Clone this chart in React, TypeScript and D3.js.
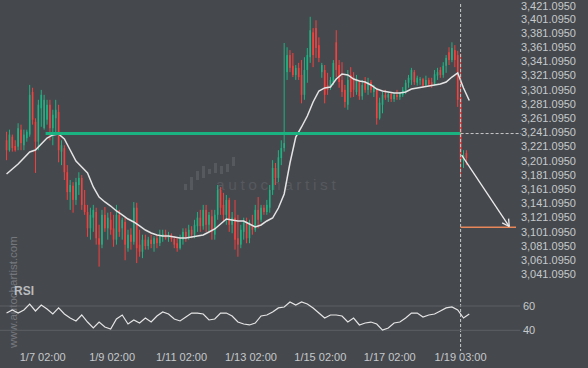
import React from "react";
import * as d3 from "d3";

const W = 588;
const H = 368;

const bg = "#45484d";
const up = "#1fb383";
const down = "#f2413f";
const axisText = "#c6c8cb";
const font = "Liberation Sans, Arial, sans-serif";

// 2-hour candles starting 1/6 01:00
const start = new Date(2025, 0, 6, 1);
const stepHours = 2;

// [open, high, low, close]
const ohlc: [number, number, number, number][] = [
  [3230, 3242, 3202, 3216], [3216, 3245, 3214, 3238], [3235, 3238, 3214, 3219], [3222, 3230, 3214, 3216],
  [3221, 3254, 3216, 3247], [3245, 3252, 3216, 3226], [3223, 3245, 3216, 3238], [3233, 3245, 3228, 3242],
  [3238, 3308, 3235, 3294], [3298, 3304, 3252, 3259], [3256, 3261, 3184, 3228], [3228, 3287, 3216, 3280],
  [3275, 3301, 3249, 3294], [3247, 3294, 3245, 3287], [3259, 3287, 3252, 3280], [3280, 3287, 3230, 3247],
  [3247, 3273, 3223, 3266], [3261, 3287, 3238, 3273], [3270, 3280, 3199, 3216], [3214, 3230, 3195, 3223],
  [3219, 3223, 3174, 3185], [3185, 3195, 3146, 3157], [3157, 3174, 3132, 3167], [3166, 3171, 3128, 3146],
  [3146, 3177, 3139, 3171], [3167, 3185, 3153, 3177], [3177, 3181, 3132, 3139], [3139, 3160, 3125, 3129],
  [3129, 3139, 3094, 3106], [3106, 3135, 3090, 3125], [3121, 3139, 3101, 3132], [3129, 3135, 3083, 3092],
  [3092, 3111, 3052, 3083], [3083, 3132, 3078, 3125], [3125, 3136, 3101, 3106], [3106, 3128, 3090, 3121],
  [3118, 3129, 3097, 3104], [3106, 3125, 3080, 3090], [3090, 3139, 3083, 3125], [3125, 3132, 3094, 3101],
  [3106, 3121, 3090, 3118], [3115, 3121, 3061, 3083], [3078, 3104, 3073, 3097], [3097, 3106, 3076, 3087],
  [3087, 3143, 3083, 3135], [3135, 3142, 3057, 3078], [3083, 3104, 3066, 3073], [3073, 3097, 3064, 3090],
  [3090, 3097, 3076, 3081], [3081, 3094, 3076, 3090], [3090, 3097, 3078, 3084], [3084, 3095, 3073, 3092],
  [3092, 3097, 3078, 3085], [3085, 3104, 3081, 3095], [3094, 3104, 3087, 3098], [3098, 3104, 3090, 3092],
  [3092, 3101, 3087, 3097], [3097, 3099, 3087, 3091], [3091, 3095, 3078, 3083], [3085, 3092, 3073, 3078],
  [3078, 3097, 3076, 3092], [3090, 3106, 3083, 3101], [3101, 3106, 3087, 3094], [3094, 3111, 3090, 3104],
  [3104, 3109, 3092, 3097], [3097, 3118, 3092, 3111], [3109, 3129, 3101, 3121], [3121, 3132, 3101, 3109],
  [3109, 3139, 3104, 3132], [3132, 3139, 3101, 3111], [3111, 3129, 3101, 3125], [3123, 3132, 3090, 3101],
  [3097, 3132, 3090, 3125], [3125, 3167, 3118, 3160], [3160, 3164, 3125, 3135], [3139, 3156, 3115, 3125],
  [3125, 3153, 3111, 3146], [3146, 3149, 3101, 3111], [3111, 3129, 3099, 3121], [3121, 3146, 3076, 3090],
  [3092, 3125, 3066, 3083], [3083, 3111, 3078, 3104], [3101, 3121, 3090, 3115], [3115, 3121, 3085, 3092],
  [3092, 3118, 3085, 3111], [3111, 3125, 3097, 3104], [3104, 3139, 3101, 3132], [3132, 3150, 3106, 3118],
  [3118, 3139, 3115, 3135], [3135, 3139, 3125, 3129], [3129, 3146, 3125, 3139], [3135, 3167, 3128, 3160],
  [3160, 3202, 3153, 3191], [3191, 3198, 3167, 3177], [3177, 3216, 3171, 3206], [3205, 3230, 3195, 3219],
  [3219, 3367, 3214, 3226], [3326, 3361, 3315, 3350], [3350, 3357, 3326, 3332], [3335, 3353, 3319, 3322],
  [3322, 3336, 3315, 3332], [3332, 3339, 3315, 3319], [3322, 3343, 3282, 3294], [3294, 3347, 3287, 3329],
  [3329, 3360, 3311, 3350], [3347, 3404, 3339, 3385], [3382, 3388, 3333, 3350], [3388, 3399, 3346, 3360],
  [3364, 3375, 3340, 3346], [3326, 3339, 3318, 3336], [3329, 3336, 3282, 3294], [3308, 3325, 3294, 3301],
  [3304, 3319, 3301, 3315], [3312, 3343, 3308, 3339], [3368, 3385, 3319, 3329], [3336, 3343, 3304, 3312],
  [3315, 3340, 3291, 3298], [3301, 3308, 3276, 3284], [3280, 3329, 3273, 3315], [3322, 3333, 3290, 3298],
  [3318, 3326, 3291, 3301], [3298, 3322, 3294, 3315], [3312, 3315, 3287, 3292], [3292, 3315, 3287, 3308],
  [3312, 3319, 3297, 3301], [3301, 3318, 3294, 3312], [3312, 3315, 3297, 3301], [3298, 3308, 3291, 3304],
  [3301, 3304, 3252, 3261], [3261, 3290, 3259, 3283], [3280, 3298, 3268, 3294], [3294, 3301, 3287, 3290],
  [3290, 3298, 3284, 3295], [3295, 3298, 3284, 3288], [3288, 3297, 3284, 3294], [3294, 3301, 3287, 3291],
  [3291, 3298, 3287, 3297], [3294, 3305, 3291, 3301], [3298, 3315, 3295, 3311], [3311, 3322, 3304, 3318],
  [3315, 3332, 3308, 3329], [3326, 3329, 3308, 3312], [3311, 3321, 3307, 3318], [3315, 3319, 3308, 3316],
  [3316, 3318, 3304, 3307], [3308, 3321, 3305, 3315], [3315, 3318, 3305, 3309], [3312, 3318, 3304, 3307],
  [3309, 3329, 3307, 3323], [3321, 3332, 3315, 3326], [3329, 3333, 3318, 3322], [3322, 3340, 3318, 3335],
  [3335, 3350, 3325, 3346], [3354, 3361, 3336, 3343], [3343, 3368, 3340, 3360], [3357, 3364, 3333, 3343],
  [3350, 3356, 3277, 3287], [3290, 3352, 3178, 3202], [3202, 3216, 3191, 3209], [3212, 3216, 3195, 3205],
];

// moving average and RSI, one value every 4 hours from 1/6 01:00
const maStepHours = 4;
const maValues = [
  3182.5, 3189.6, 3196.6, 3205.1, 3213.5, 3216.3, 3224.8, 3233.2, 3237.5, 3238.9,
  3231.8, 3216.3, 3200.8, 3192.4, 3183.9, 3164.2, 3150.1, 3143.1, 3137.4, 3130.4,
  3124.8, 3119.1, 3114.9, 3109.3, 3103.6, 3099.4, 3096.6, 3095.2, 3095.2, 3093.8,
  3092.4, 3092.4, 3093.8, 3095.2, 3096.6, 3100.8, 3105.1, 3112.1, 3119.1, 3117.7,
  3116.3, 3116.3, 3112.1, 3107.9, 3110.7, 3116.3, 3120.5, 3134.6, 3154.4, 3198.0,
  3234.6, 3248.7, 3264.2, 3283.9, 3299.4, 3303.7, 3305.1, 3316.3, 3323.4, 3322.0,
  3316.3, 3313.5, 3312.1, 3307.9, 3302.2, 3299.4, 3298.0, 3296.6, 3296.6, 3298.0,
  3302.2, 3303.7, 3305.1, 3306.5, 3307.9, 3309.3, 3312.1, 3319.1, 3324.8, 3303.7, 3286.0,
];
const rsiValues = [
  54.2, 56.7, 54.2, 56.7, 61.6, 55.9, 60.8, 57.5, 53.4, 58.4,
  53.4, 50.1, 47.7, 52.6, 46.8, 41.9, 46.8, 42.7, 41.1, 49.3,
  52.6, 45.2, 48.5, 46.0, 50.1, 46.8, 51.8, 55.1, 53.4, 49.3,
  47.7, 50.9, 54.2, 54.2, 53.4, 48.5, 49.3, 54.2, 54.2, 51.8,
  46.8, 45.2, 44.4, 46.0, 51.8, 52.6, 55.1, 58.4, 59.2, 63.3,
  60.8, 63.3, 61.6, 58.4, 54.2, 50.1, 52.6, 52.6, 51.8, 46.8,
  50.1, 44.4, 46.0, 46.8, 45.2, 40.2, 41.9, 46.0, 46.8, 50.1,
  54.2, 54.2, 50.9, 52.6, 53.4, 55.9, 58.4, 59.2, 56.7, 50.1, 53.4,
];

const priceTicks = d3.range(20).map((i) => 3041.095 + 20 * i);
const rsiTicks = [40, 60];
const timeTicks = [
  new Date(2025, 0, 7, 2), new Date(2025, 0, 9, 2), new Date(2025, 0, 11, 2),
  new Date(2025, 0, 13, 2), new Date(2025, 0, 15, 2), new Date(2025, 0, 17, 2),
  new Date(2025, 0, 19, 3),
];

const level = 3239.5;
const levelStart = new Date(2025, 0, 7, 4);
const now = new Date(2025, 0, 19, 3);
const target = 3107.5;
const targetEnd = new Date(2025, 0, 20, 17, 20);
const arrowFrom: [Date, number] = [new Date(2025, 0, 19, 3, 45), 3209];
const arrowTo: [Date, number] = [new Date(2025, 0, 20, 12, 40), 3108.5];

const fmtPrice = d3.format(",.4f");
const fmtTime = d3.timeFormat("%-m/%-d %H:%M");

export default function App() {
  const x = d3.scaleTime()
    .domain([new Date(2025, 0, 7, 2), now])
    .range([42.7, 460.6]);
  const y = d3.scaleLinear().domain([3041.095, 3421.095]).range([274.4, 4.6]);
  const yr = d3.scaleLinear().domain([40, 60]).range([330.3, 306]);

  const tAt = (i: number, step: number) => d3.timeHour.offset(start, i * step);

  const maLine = d3.line<number>()
    .x((_, i) => x(tAt(i, maStepHours)))
    .y((d) => y(d));
  const rsiLine = d3.line<number>()
    .x((_, i) => x(tAt(i, maStepHours)))
    .y((d) => yr(d));

  const ax0 = x(arrowFrom[0]), ay0 = y(arrowFrom[1]);
  const ax1 = x(arrowTo[0]), ay1 = y(arrowTo[1]);
  const ang = Math.atan2(ay1 - ay0, ax1 - ax0) + Math.PI;
  const barb = (a: number) => `M${ax1},${ay1}L${ax1 + 8 * Math.cos(a)},${ay1 + 8 * Math.sin(a)}`;

  const nowX = x(now);

  return (
    <svg width={W} height={H} style={{ position: "absolute", left: 0, top: 0 }} fontFamily={font}>
      <rect width={W} height={H} fill={bg} />

      {/* watermark */}
      <g fill="#56595e">
        <rect x={184} y={184} width={3} height={6} />
        <rect x={190} y={177} width={3} height={13} />
        <rect x={196} y={171} width={3} height={9} />
        <rect x={202} y={166} width={3} height={12} />
        <rect x={208} y={169} width={3} height={5} />
        <rect x={214} y={163} width={3} height={10} />
        <rect x={220} y={166} width={3} height={8} />
        <rect x={226} y={164} width={3} height={8} />
        <rect x={232} y={157} width={3} height={9} />
        <text x={216} y={190} fontSize={15.5} letterSpacing={3.6}>autochartist</text>
      </g>
      <text transform="translate(17,348) rotate(-90)" fontSize={11.5} fill="#75787d">www.autochartist.com</text>

      {/* candles */}
      {ohlc.map(([o, h, l, c], i) => {
        const cx = x(tAt(i, stepHours));
        const col = c >= o ? up : down;
        const top = y(Math.max(o, c));
        const bot = y(Math.min(o, c));
        return (
          <g key={i}>
            <line x1={cx} x2={cx} y1={y(h)} y2={y(l)} stroke={col} strokeWidth={1} />
            <rect x={cx - 0.8} y={top} width={1.6} height={Math.max(1, bot - top)} fill={col} />
          </g>
        );
      })}

      <path d={maLine(maValues) ?? ""} fill="none" stroke="#e4e4e4" strokeWidth={1.5} />

      {/* key level */}
      <line x1={x(levelStart)} x2={nowX} y1={y(level)} y2={y(level)} stroke="#19b280" strokeWidth={3} />
      <line x1={nowX} x2={521} y1={y(level)} y2={y(level)} stroke="#c8c8c8" strokeWidth={1} strokeDasharray="3,2" />
      <line x1={nowX} x2={nowX} y1={4} y2={351} stroke="#c8c8c8" strokeWidth={1} strokeDasharray="3,2" />

      {/* forecast */}
      <line x1={nowX} x2={x(targetEnd)} y1={y(target)} y2={y(target)} stroke="#e8875a" strokeWidth={1.5} />
      <g stroke="#ececec" strokeWidth={1.3} fill="none">
        <line x1={ax0} y1={ay0} x2={ax1} y2={ay1} />
        <path d={barb(ang - 0.5)} />
        <path d={barb(ang + 0.5)} />
      </g>

      {/* price axis */}
      {priceTicks.map((p) => (
        <text key={p} x={576} y={Math.max(6, y(p))} dy="0.35em" textAnchor="end" fontSize={11} fill={axisText}>
          {fmtPrice(p)}
        </text>
      ))}

      {/* RSI panel */}
      {rsiTicks.map((r) => (
        <g key={r}>
          <line x1={0} x2={520} y1={yr(r)} y2={yr(r)} stroke="#5c5f64" strokeWidth={1} />
          <text x={523} y={yr(r)} dy="0.35em" fontSize={11} fill={axisText}>{r}</text>
        </g>
      ))}
      <text x={14} y={295} fontSize={12} fontWeight="bold" fill="#b9bbbe">RSI</text>
      <path d={rsiLine(rsiValues) ?? ""} fill="none" stroke="#e4e4e4" strokeWidth={1.2} />

      {/* time axis */}
      {timeTicks.map((t) => (
        <text key={+t} x={x(t)} y={357} dy="0.35em" textAnchor="middle" fontSize={11} fill={axisText}>
          {fmtTime(t)}
        </text>
      ))}
    </svg>
  );
}
